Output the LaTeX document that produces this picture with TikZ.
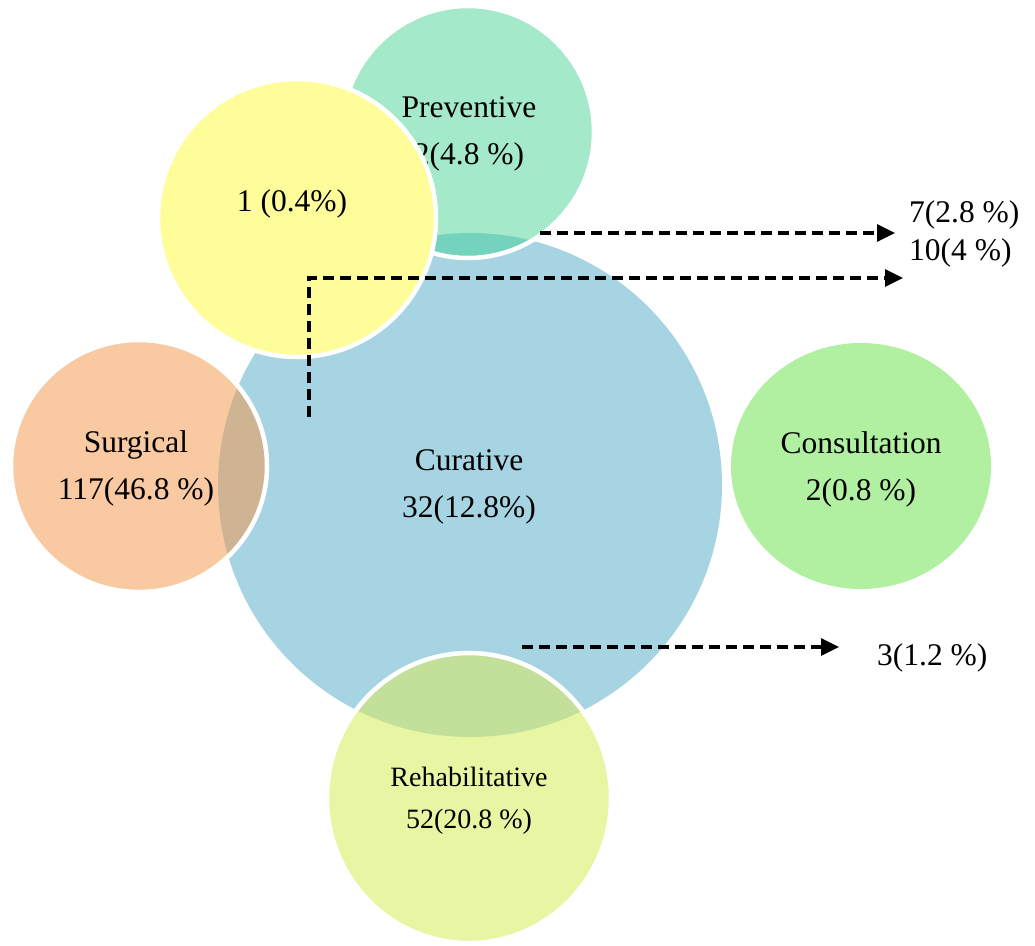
\documentclass[tikz,border=0pt]{standalone}
\usepackage{fontspec}
\setmainfont{Liberation Serif}
\usetikzlibrary{arrows.meta}
\definecolor{curC}{HTML}{A6D4E2}
\definecolor{prevC}{HTML}{A5E9CB}
\definecolor{prevcurC}{HTML}{74D3BD}
\definecolor{yelC}{HTML}{FEFD9A}
\definecolor{surgC}{HTML}{F9C9A2}
\definecolor{surgcurC}{HTML}{CFB493}
\definecolor{consC}{HTML}{B0F0A0}
\definecolor{rehabC}{HTML}{E8F5A2}
\definecolor{rehabcurC}{HTML}{C2E09A}
\begin{document}
\begin{tikzpicture}[x=1pt,y=-1pt,
  wborder/.style={draw=white,line width=4.5pt},
  lbl/.style={align=center,font=\fontsize{31.5}{47}\selectfont,inner sep=0pt},
  lblsmall/.style={align=center,font=\fontsize{28}{42}\selectfont,inner sep=0pt},
  side/.style={anchor=west,font=\fontsize{31.5}{38}\selectfont,inner sep=0pt},
  dasharrow/.style={draw=black,line width=3.2pt,dash pattern=on 11pt off 6pt,-{Triangle[length=18pt,width=17pt]}}]
\useasboundingbox (0,0) rectangle (1035,945);
% Curative
\fill[curC] (470,485) circle[radius=252];
% Consultation
\fill[consC] (861,466) circle[x radius=130,y radius=123];
% Preventive
\fill[prevC] (468,132) circle[radius=126];
\begin{scope}
  \clip (468,132) circle[radius=126];
  \fill[prevcurC] (470,485) circle[radius=252];
\end{scope}
\draw[wborder] (468,132) circle[radius=126];
% Surgical
\fill[surgC] (139,466) circle[x radius=128,y radius=126];
\begin{scope}
  \clip (139,466) circle[x radius=128,y radius=126];
  \fill[surgcurC] (470,485) circle[radius=252];
\end{scope}
\draw[wborder] (139,466) circle[x radius=128,y radius=126];
% Rehabilitative
\fill[rehabC] (469,798) circle[x radius=142,y radius=145];
\begin{scope}
  \clip (469,798) circle[x radius=142,y radius=145];
  \fill[rehabcurC] (470,485) circle[radius=252];
\end{scope}
\draw[wborder] (469,798) circle[x radius=142,y radius=145];
% labels
\node[lbl] (prev) at (469,134) {Preventive\\2(4.8 \%)};
\node[lbl] (cur) at (469,487) {Curative\\32(12.8\%)};
\node[lbl] (surg) at (136,468) {Surgical\\117(46.8 \%)};
\node[lbl] (cons) at (861,469) {Consultation\\2(0.8 \%)};
\node[lblsmall] (rehab) at (469,801) {Rehabilitative\\52(20.8 \%)};
% Yellow circle on top
\fill[yelC] (297,218) circle[radius=139];
\draw[wborder] (297,218) circle[radius=139];
\node[lbl] (yel) at (292,204) {1 (0.4\%)};
% side labels
\node[side] (l1) at (909,215) {7(2.8 \%)};
\node[side] (l2) at (909,253) {10(4 \%)};
\node[side] (l3) at (877,658) {3(1.2 \%)};
% arrows
\coordinate (s1) at (540,233);
\coordinate (e1) at (895,233);
\coordinate (s2) at (309,417);
\coordinate (e2) at (903,278);
\coordinate (s3) at (522,647);
\coordinate (e3) at (839,647);
\draw[dasharrow] (s1) -- (e1);
\draw[dasharrow] (s2) |- (e2);
\draw[dasharrow] (s3) -- (e3);
\end{tikzpicture}
\end{document}
